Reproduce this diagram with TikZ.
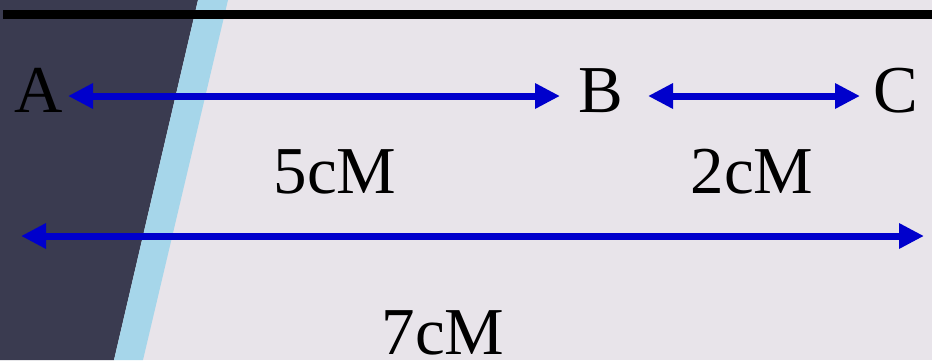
\documentclass[tikz,border=0pt]{standalone}
\usepackage{fontspec}
\setmainfont{Liberation Serif}
\usetikzlibrary{arrows.meta}
\definecolor{bgc}{HTML}{E8E4EA}
\definecolor{navy}{HTML}{3A3B50}
\definecolor{lblue}{HTML}{A6D6EA}
\definecolor{arrblue}{HTML}{0000CC}
\tikzset{
  lbl/.style={font=\fontsize{67}{70}\selectfont, text=black, inner sep=0pt, anchor=base},
  arr/.style={draw=arrblue, line width=7pt,
    {Triangle[length=25pt,width=24pt]}-{Triangle[length=25pt,width=24pt]}}
}
\begin{document}
\begin{tikzpicture}[x=1pt,y=-1pt]
\useasboundingbox (0,0) rectangle (932,360);
\fill[bgc] (0,0) rectangle (932,360);
\fill[navy] (0,0) -- (198,0) -- (114,360) -- (0,360) -- cycle;
\fill[lblue] (198,0) -- (228,0) -- (143,360) -- (114,360) -- cycle;
\draw[line width=9pt] (3,14.5) -- (932,14.5);
\node[lbl] (A) at (38.5,112) {A};
\node[lbl] (B) at (601,112) {B};
\node[lbl] (C) at (896,112) {C};
\node[lbl] (d5) at (335,193) {5cM};
\node[lbl] (d2) at (752,193) {2cM};
\node[lbl] (d7) at (443,354) {7cM};
\coordinate (a1) at (68,96);
\coordinate (b1) at (560,96);
\coordinate (b2) at (648,96);
\coordinate (c2) at (860,96);
\coordinate (l3) at (21,236);
\coordinate (r3) at (924,236);
\draw[arr] (a1) -- (b1);
\draw[arr] (b2) -- (c2);
\draw[arr] (l3) -- (r3);
\end{tikzpicture}
\end{document}
